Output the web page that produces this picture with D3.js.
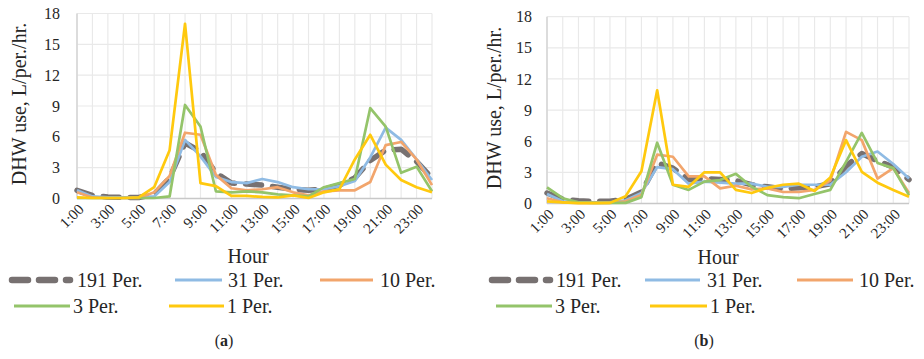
<!DOCTYPE html>
<html>
<head>
<meta charset="utf-8">
<script src="https://cdn.jsdelivr.net/npm/d3@7"></script>
<style>
  body { margin: 0; background: #fff; }
  svg { display: block; }
  text { font-family: "Liberation Serif", "Times New Roman", serif; fill: #262626; }
</style>
</head>
<body>
<svg id="chart" width="924" height="359"></svg>
<script>
// Hourly domestic hot water use per person, two scenarios (a) and (b)
const hours = ["1:00","2:00","3:00","4:00","5:00","6:00","7:00","8:00","9:00","10:00","11:00","12:00",
               "13:00","14:00","15:00","16:00","17:00","18:00","19:00","20:00","21:00","22:00","23:00","24:00"];
const hourTickLabels = ["1:00","3:00","5:00","7:00","9:00","11:00","13:00","15:00","17:00","19:00","21:00","23:00"];
const yTickValues = [0, 3, 6, 9, 12, 15, 18];
const seriesNames = ["191 Per.", "31 Per.", "10 Per.", "3 Per.", "1 Per."];

// Panel (a)
const a191 = [0.8,0.3,0.15,0.1,0.1,0.4,2.0,5.4,4.6,2.5,1.5,1.4,1.3,1.1,0.9,0.8,0.9,1.3,2.0,3.7,4.7,4.8,3.6,2.0];
const a31  = [0.8,0.2,0.1,0.1,0.1,0.2,1.6,5.7,4.1,2.1,1.6,1.5,1.9,1.6,1.1,0.9,0.9,1.2,1.7,4.0,6.9,5.7,3.8,1.8];
const a10  = [0.6,0.1,0.05,0.05,0.05,0.6,2.2,6.4,6.2,2.3,1.0,0.8,0.9,1.1,0.6,0.3,0.7,0.8,0.8,1.6,5.2,5.5,3.8,1.3];
const a3   = [0.05,0.05,0.05,0.05,0.05,0.05,0.2,9.1,7.0,0.7,0.6,0.7,0.6,0.4,0.3,0.2,1.1,1.5,1.9,8.8,7.0,2.5,3.1,0.7];
const a1   = [0.1,0.05,0.05,0.05,0.1,1.1,4.7,17.0,1.5,1.2,0.25,0.25,0.15,0.1,0.3,0.05,0.6,0.9,3.8,6.2,3.3,1.8,1.1,0.6];

// Panel (b)
const b191 = [1.0,0.4,0.25,0.2,0.2,0.4,1.1,3.9,3.4,2.3,2.4,2.3,2.2,1.8,1.6,1.4,1.5,1.6,1.9,3.6,4.8,4.1,3.5,2.3];
const b31  = [0.9,0.2,0.1,0.1,0.1,0.3,1.0,3.5,3.3,1.9,2.1,2.0,1.9,1.9,1.6,1.6,1.8,1.8,1.8,3.0,4.5,5.0,3.8,2.4];
const b10  = [0.5,0.1,0.05,0.05,0.05,0.2,0.8,4.7,4.5,2.6,2.6,1.45,1.7,1.35,1.45,1.1,1.1,1.3,2.2,6.9,6.1,2.4,3.4,1.0];
const b3   = [1.55,0.5,0.1,0.05,0.05,0.05,0.6,5.85,1.8,1.3,2.1,2.25,2.85,1.6,0.8,0.6,0.5,0.9,1.3,4.0,6.8,3.9,3.4,0.8];
const b1   = [0.2,0.1,0.02,0.02,0.05,0.7,3.1,10.9,1.8,1.6,3.0,3.0,1.3,1.0,1.5,1.8,1.9,1.2,2.5,6.1,3.05,2.0,1.3,0.65];

// Visual style for each series (drawn in order, first at the bottom)
const seriesStyle = [
  { color: "#777171", width: 5.5, dash: "16,11" },
  { color: "#8fbbe4", width: 2.7, dash: null },
  { color: "#f2a56c", width: 2.7, dash: null },
  { color: "#94c46a", width: 2.7, dash: null },
  { color: "#ffc90e", width: 2.7, dash: null }
];

const svg = d3.select("#chart");

const panels = [
  {
    caption: "a", series: [a191, a31, a10, a3, a1],
    left: 77, right: 432, top: 13.5, bottom: 198.5,
    titleX: 19, tickLabelGap: 17, hourX: 248, hourY: 263, captionX: 224,
    legend: [
      { x0: 12, x1: 70, tx: 77, y: 280 },
      { x0: 175, x1: 222, tx: 228, y: 280 },
      { x0: 320, x1: 373, tx: 380, y: 280 },
      { x0: 14, x1: 70, tx: 73, y: 306 },
      { x0: 169, x1: 224, tx: 227, y: 306 }
    ]
  },
  {
    caption: "b", series: [b191, b31, b10, b3, b1],
    left: 547, right: 909, top: 16.7, bottom: 203.4,
    titleX: 494, tickLabelGap: 15, hourX: 718, hourY: 264, captionX: 704,
    legend: [
      { x0: 492, x1: 550, tx: 556, y: 280 },
      { x0: 645, x1: 700, tx: 707, y: 280 },
      { x0: 797, x1: 853, tx: 859, y: 280 },
      { x0: 496, x1: 552, tx: 555, y: 306 },
      { x0: 650, x1: 707, tx: 710, y: 306 }
    ]
  }
];

panels.forEach(p => {
  const g = svg.append("g");
  const x = d3.scalePoint().domain(hours).range([p.left, p.right]);
  const y = d3.scaleLinear().domain([0, 18]).range([p.bottom, p.top]);

  // horizontal gridlines
  g.append("g").selectAll("line").data(yTickValues.filter(v => v > 0)).join("line")
    .attr("x1", p.left).attr("x2", p.right)
    .attr("y1", d => y(d)).attr("y2", d => y(d))
    .attr("stroke", "#e9e9e9").attr("stroke-width", 1.2);

  // vertical gridlines at every hour
  g.append("g").selectAll("line").data(hours).join("line")
    .attr("x1", d => x(d)).attr("x2", d => x(d))
    .attr("y1", p.top).attr("y2", p.bottom)
    .attr("stroke", "#e9e9e9").attr("stroke-width", 1.2);

  // axis lines
  g.append("line").attr("x1", p.left).attr("x2", p.left).attr("y1", p.top).attr("y2", p.bottom)
    .attr("stroke", "#d4d4d4").attr("stroke-width", 1.5);
  g.append("line").attr("x1", p.left).attr("x2", p.right).attr("y1", p.bottom).attr("y2", p.bottom)
    .attr("stroke", "#c8c8c8").attr("stroke-width", 1.5);

  // y tick labels
  const yAxis = d3.axisLeft(y).tickValues(yTickValues).tickSize(0).tickPadding(p.tickLabelGap);
  const ya = g.append("g").attr("transform", `translate(${p.left},0)`).call(yAxis);
  ya.select(".domain").remove();
  ya.selectAll("text").style("font-size", "16px").attr("fill", "#262626");

  // x tick labels, rotated
  g.append("g").selectAll("text").data(hourTickLabels).join("text")
    .attr("transform", d => `translate(${x(d) + 4},${p.bottom + 8}) rotate(-45)`)
    .attr("text-anchor", "end").attr("dy", "0.35em")
    .style("font-size", "15px")
    .text(d => d);

  // lines
  const line = d3.line().x((d, i) => x(hours[i])).y(d => y(d));
  p.series.forEach((vals, k) => {
    const s = seriesStyle[k];
    g.append("path").datum(vals)
      .attr("d", line)
      .attr("fill", "none")
      .attr("stroke", s.color)
      .attr("stroke-width", s.width)
      .attr("stroke-linejoin", "round")
      .attr("stroke-linecap", s.dash ? "round" : "butt")
      .attr("stroke-dasharray", s.dash);
  });

  // axis titles
  g.append("text")
    .attr("transform", `translate(${p.titleX},${(p.top + p.bottom) / 2 - 2}) rotate(-90)`)
    .attr("text-anchor", "middle").attr("dy", "0.35em")
    .style("font-size", "20px")
    .text("DHW use, L/per./hr.");
  g.append("text")
    .attr("x", p.hourX).attr("y", p.hourY)
    .attr("text-anchor", "middle")
    .style("font-size", "20px")
    .text("Hour");

  // legend
  p.legend.forEach((L, k) => {
    const s = seriesStyle[k];
    g.append("line")
      .attr("x1", L.x0).attr("x2", L.x1).attr("y1", L.y).attr("y2", L.y)
      .attr("stroke", s.color)
      .attr("stroke-width", s.dash ? 6.5 : 3)
      .attr("stroke-linecap", s.dash ? "round" : "butt")
      .attr("stroke-dasharray", s.dash);
    g.append("text")
      .attr("x", L.tx).attr("y", L.y + 6.5)
      .style("font-size", "20px")
      .text(seriesNames[k]);
  });

  // caption
  const cap = g.append("text")
    .attr("x", p.captionX).attr("y", 346)
    .attr("text-anchor", "middle")
    .style("font-size", "16px");
  cap.append("tspan").text("(");
  cap.append("tspan").style("font-weight", "bold").text(p.caption);
  cap.append("tspan").text(")");
});
</script>
</body>
</html>
